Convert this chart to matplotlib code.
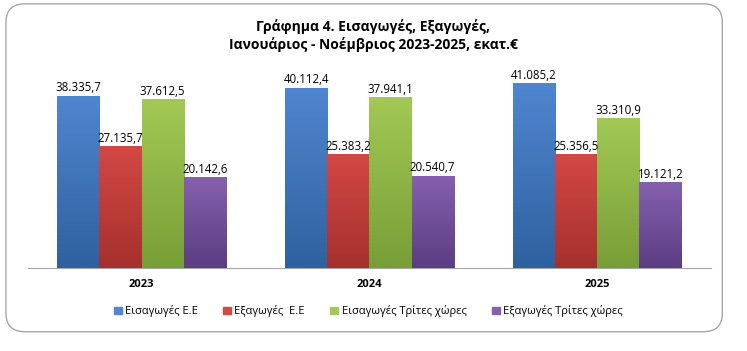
import numpy as np
import matplotlib.pyplot as plt
from matplotlib.patches import FancyBboxPatch, Rectangle
from matplotlib.colors import LinearSegmentedColormap

plt.rcParams['font.family'] = ['Open Sans', 'DejaVu Sans']

years = ['2023', '2024', '2025']
series_names = ['Εισαγωγές Ε.Ε', 'Εξαγωγές  Ε.Ε', 'Εισαγωγές Τρίτες χώρες', 'Εξαγωγές Τρίτες χώρες']
imports_eu = [38335.7, 40112.4, 41085.2]
exports_eu = [27135.7, 25383.2, 25356.5]
imports_third = [37612.5, 37941.1, 33310.9]
exports_third = [20142.6, 20540.7, 19121.2]
title = 'Γράφημα 4. Εισαγωγές, Εξαγωγές,\nΙανουάριος - Νοέμβριος 2023-2025, εκατ.€'

series = [imports_eu, exports_eu, imports_third, exports_third]
top_colors = ['#4F86CF', '#D24845', '#A2C955', '#8560AE']
bot_colors = ['#2F619F', '#A6302D', '#789E37', '#5B3D82']

def fmt(v):
    s = f'{v:,.1f}'
    return s.replace(',', 'X').replace('.', ',').replace('X', '.')

fig = plt.figure(figsize=(7.47, 3.51), dpi=100)
fig.patch.set_facecolor('white')
border = FancyBboxPatch((0.008, 0.055), 0.959, 0.934, boxstyle='round,pad=0,rounding_size=0.025',
                        transform=fig.transFigure, facecolor='none', edgecolor='#A6A6A6',
                        linewidth=1.0, mutation_aspect=7.47/3.51, zorder=-5)
fig.patches.append(border)

ax = fig.add_axes([0.037, 0.237, 0.915, 0.55])
ax.patch.set_alpha(0)
x = np.arange(len(years))
w = 0.185
for i, vals in enumerate(series):
    xs = x + (i - 1.5) * w
    bars = ax.bar(xs, vals, width=w, color=top_colors[i], label=series_names[i], zorder=2)
    cmap = LinearSegmentedColormap.from_list(f'c{i}', [bot_colors[i], top_colors[i]])
    for b, v in zip(bars, vals):
        x0, y0, bw, bh = b.get_x(), b.get_y(), b.get_width(), b.get_height()
        grad = np.linspace(0, 1, 100).reshape(-1, 1)
        im = ax.imshow(grad, extent=[x0, x0 + bw, y0, y0 + bh], origin='lower',
                       cmap=cmap, aspect='auto', zorder=3)
        im.set_clip_path(b)
        ax.text(x0 + bw / 2, v + 300, fmt(v), ha='center', va='bottom', fontsize=8.3,
                color='black', zorder=4)
ax.set_xlim(-0.5, 2.5)
ax.set_ylim(0, 43000)
for s in ['top', 'right', 'left']:
    ax.spines[s].set_visible(False)
ax.spines['bottom'].set_color('#A6A6A6')
ax.set_yticks([])
ax.set_xticks(x)
ax.set_xticklabels(years, fontsize=8, fontweight='bold')
ax.tick_params(axis='x', length=0, pad=8)

fig.text(0.5, 0.945, title, ha='center', va='top', fontsize=10, fontweight='bold',
         linespacing=1.25)

handles = [Rectangle((0, 0), 1, 1, color=c) for c in top_colors]
fig.legend(handles, series_names, loc='center', bbox_to_anchor=(0.493, 0.113), ncol=4,
           frameon=False, fontsize=8, handlelength=0.7, handleheight=0.7,
           handletextpad=0.3, columnspacing=2.3)

fig.savefig('out.png', dpi=100)
